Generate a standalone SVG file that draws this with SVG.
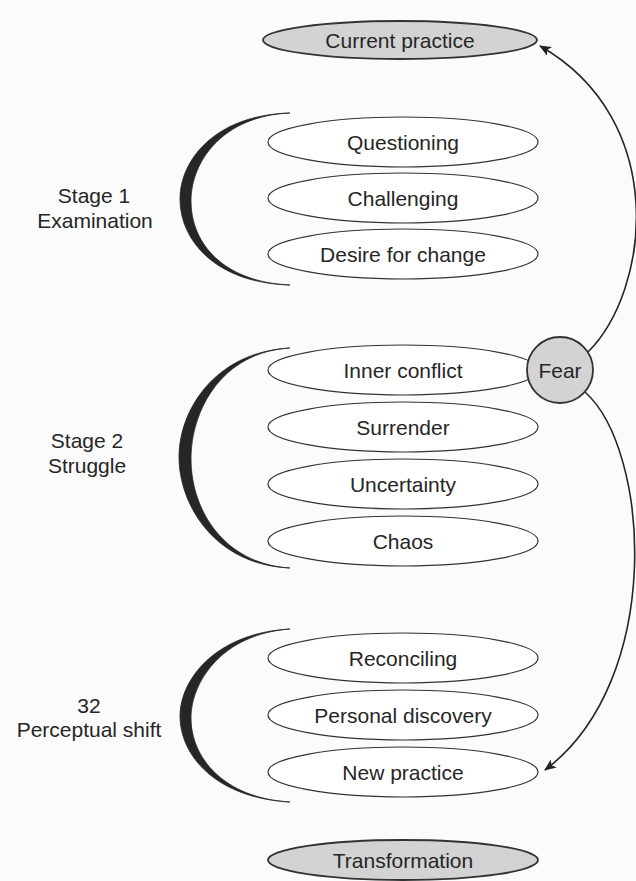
<svg xmlns="http://www.w3.org/2000/svg" width="636" height="881" viewBox="0 0 636 881">
<defs>
<marker id="ah" viewBox="0 0 12 10" refX="11" refY="5" markerWidth="12" markerHeight="10" markerUnits="userSpaceOnUse" orient="auto">
<path d="M0,0 L12,5 L0,10 L3,5 Z" fill="#222"/>
</marker>
<style>
.bg{fill:#fbfbfb}
.n{fill:#fff;stroke:#333;stroke-width:1.2}
.g{fill:#d3d3d3;stroke:#333;stroke-width:1.8}
.t{font-family:"Liberation Sans",Arial,sans-serif;font-size:21px;fill:#262626;text-anchor:middle}
.br{fill:#262626;stroke:#262626;stroke-width:0.8}
.c{fill:none;stroke:#262626;stroke-width:1.6}
</style>
</defs>
<rect class="bg" x="0" y="0" width="636" height="881"/>

<g id="connectors">
<path class="c" d="M588,352 C650,290 670,120 540,46" marker-end="url(#ah)"/>
<path class="c" d="M585,392 C650,450 665,680 545,770" marker-end="url(#ah)"/>
</g>

<g id="current-practice">
<ellipse class="g" cx="400" cy="40" rx="137" ry="19"/>
<text class="t" x="400" y="47.5">Current practice</text>
</g>

<g id="stage1">
<path class="br" d="M290,113 C215,115 180,160 180,199 C180,240 215,283 290,285 C224,282 191,244 191,201 C191,162 222,116 290,113 Z"/>
<text class="t" x="94" y="203">Stage 1</text>
<text class="t" x="95" y="228">Examination</text>
</g>
<g id="questioning"><ellipse class="n" cx="403" cy="142" rx="135" ry="25"/><text class="t" x="403" y="149.5">Questioning</text></g>
<g id="challenging"><ellipse class="n" cx="403" cy="198" rx="135" ry="25"/><text class="t" x="403" y="205.5">Challenging</text></g>
<g id="desire"><ellipse class="n" cx="403" cy="254" rx="135" ry="25"/><text class="t" x="403" y="261.5">Desire for change</text></g>

<g id="stage2">
<path class="br" d="M290,348 C215,352 179,410 179,457 C179,505 215,565 290,568 C224,564 191,510 191,459 C191,410 222,352 290,348 Z"/>
<text class="t" x="87" y="448">Stage 2</text>
<text class="t" x="87" y="473">Struggle</text>
</g>
<g id="inner-conflict"><ellipse class="n" cx="403" cy="370" rx="135" ry="25"/><text class="t" x="403" y="377.5">Inner conflict</text></g>
<g id="surrender"><ellipse class="n" cx="403" cy="427" rx="135" ry="25"/><text class="t" x="403" y="434.5">Surrender</text></g>
<g id="uncertainty"><ellipse class="n" cx="403" cy="484" rx="135" ry="25"/><text class="t" x="403" y="491.5">Uncertainty</text></g>
<g id="chaos"><ellipse class="n" cx="403" cy="541" rx="135" ry="25"/><text class="t" x="403" y="548.5">Chaos</text></g>

<g id="fear">
<circle class="g" cx="560" cy="370" r="33"/>
<text class="t" x="560" y="377.5">Fear</text>
</g>

<g id="stage3">
<path class="br" d="M290,629 C215,633 180,680 180,716 C180,755 215,798 290,802 C224,798 191,758 191,718 C191,682 222,634 290,629 Z"/>
<text class="t" x="89" y="713">32</text>
<text class="t" x="89" y="737">Perceptual shift</text>
</g>
<g id="reconciling"><ellipse class="n" cx="403" cy="658" rx="135" ry="25"/><text class="t" x="403" y="665.5">Reconciling</text></g>
<g id="personal-discovery"><ellipse class="n" cx="403" cy="715" rx="135" ry="25"/><text class="t" x="403" y="722.5">Personal discovery</text></g>
<g id="new-practice"><ellipse class="n" cx="403" cy="772" rx="135" ry="25"/><text class="t" x="403" y="779.5">New practice</text></g>

<g id="transformation">
<ellipse class="g" cx="403" cy="860" rx="135" ry="20"/>
<text class="t" x="403" y="867.5">Transformation</text>
</g>
</svg>
